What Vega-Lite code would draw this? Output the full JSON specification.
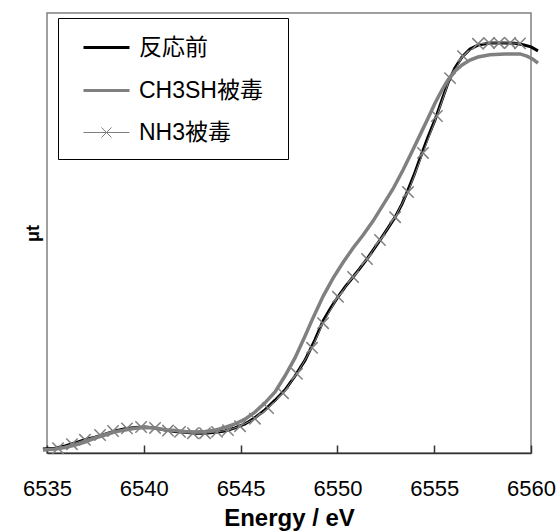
{
  "$schema": "https://vega.github.io/schema/vega-lite/v6.json",
  "width": 484,
  "height": 440,
  "autosize": {"type": "none"},
  "padding": {"left": 47, "top": 13, "right": 28, "bottom": 78},
  "background": "#ffffff",
  "config": {"view": {"stroke": "#808080", "strokeWidth": 1.5}},
  "datasets": {
    "d": [
      {"s": "反応前", "E": 6534.79, "y": 0.009},
      {"s": "反応前", "E": 6535.41, "y": 0.011},
      {"s": "反応前", "E": 6535.93, "y": 0.016},
      {"s": "反応前", "E": 6536.45, "y": 0.023},
      {"s": "反応前", "E": 6536.96, "y": 0.030},
      {"s": "反応前", "E": 6537.48, "y": 0.036},
      {"s": "反応前", "E": 6538.00, "y": 0.043},
      {"s": "反応前", "E": 6538.51, "y": 0.050},
      {"s": "反応前", "E": 6539.03, "y": 0.055},
      {"s": "反応前", "E": 6539.55, "y": 0.058},
      {"s": "反応前", "E": 6540.06, "y": 0.059},
      {"s": "反応前", "E": 6540.58, "y": 0.057},
      {"s": "反応前", "E": 6541.10, "y": 0.052},
      {"s": "反応前", "E": 6541.61, "y": 0.049},
      {"s": "反応前", "E": 6542.13, "y": 0.047},
      {"s": "反応前", "E": 6542.64, "y": 0.045},
      {"s": "反応前", "E": 6543.16, "y": 0.045},
      {"s": "反応前", "E": 6543.68, "y": 0.047},
      {"s": "反応前", "E": 6544.19, "y": 0.050},
      {"s": "反応前", "E": 6544.71, "y": 0.057},
      {"s": "反応前", "E": 6545.23, "y": 0.066},
      {"s": "反応前", "E": 6545.74, "y": 0.080},
      {"s": "反応前", "E": 6546.26, "y": 0.098},
      {"s": "反応前", "E": 6546.78, "y": 0.120},
      {"s": "反応前", "E": 6547.29, "y": 0.143},
      {"s": "反応前", "E": 6547.81, "y": 0.175},
      {"s": "反応前", "E": 6548.33, "y": 0.211},
      {"s": "反応前", "E": 6548.84, "y": 0.257},
      {"s": "反応前", "E": 6549.26, "y": 0.300},
      {"s": "反応前", "E": 6549.62, "y": 0.327},
      {"s": "反応前", "E": 6550.03, "y": 0.355},
      {"s": "反応前", "E": 6550.39, "y": 0.377},
      {"s": "反応前", "E": 6550.81, "y": 0.400},
      {"s": "反応前", "E": 6551.17, "y": 0.420},
      {"s": "反応前", "E": 6551.53, "y": 0.441},
      {"s": "反応前", "E": 6551.89, "y": 0.464},
      {"s": "反応前", "E": 6552.20, "y": 0.484},
      {"s": "反応前", "E": 6552.61, "y": 0.511},
      {"s": "反応前", "E": 6552.98, "y": 0.536},
      {"s": "反応前", "E": 6553.34, "y": 0.566},
      {"s": "反応前", "E": 6553.65, "y": 0.598},
      {"s": "反応前", "E": 6553.96, "y": 0.632},
      {"s": "反応前", "E": 6554.27, "y": 0.670},
      {"s": "反応前", "E": 6554.68, "y": 0.718},
      {"s": "反応前", "E": 6555.04, "y": 0.757},
      {"s": "反応前", "E": 6555.40, "y": 0.802},
      {"s": "反応前", "E": 6555.71, "y": 0.841},
      {"s": "反応前", "E": 6556.07, "y": 0.875},
      {"s": "反応前", "E": 6556.44, "y": 0.900},
      {"s": "反応前", "E": 6556.85, "y": 0.918},
      {"s": "反応前", "E": 6557.26, "y": 0.927},
      {"s": "反応前", "E": 6557.88, "y": 0.932},
      {"s": "反応前", "E": 6558.66, "y": 0.932},
      {"s": "反応前", "E": 6559.17, "y": 0.931},
      {"s": "反応前", "E": 6559.59, "y": 0.928},
      {"s": "反応前", "E": 6560.00, "y": 0.923},
      {"s": "反応前", "E": 6560.36, "y": 0.914},

      {"s": "CH3SH被毒", "E": 6534.79, "y": 0.007},
      {"s": "CH3SH被毒", "E": 6535.41, "y": 0.009},
      {"s": "CH3SH被毒", "E": 6535.93, "y": 0.0125},
      {"s": "CH3SH被毒", "E": 6536.45, "y": 0.018},
      {"s": "CH3SH被毒", "E": 6536.96, "y": 0.025},
      {"s": "CH3SH被毒", "E": 6537.48, "y": 0.034},
      {"s": "CH3SH被毒", "E": 6538.00, "y": 0.041},
      {"s": "CH3SH被毒", "E": 6538.51, "y": 0.048},
      {"s": "CH3SH被毒", "E": 6539.03, "y": 0.052},
      {"s": "CH3SH被毒", "E": 6539.55, "y": 0.056},
      {"s": "CH3SH被毒", "E": 6540.06, "y": 0.058},
      {"s": "CH3SH被毒", "E": 6540.58, "y": 0.057},
      {"s": "CH3SH被毒", "E": 6541.10, "y": 0.053},
      {"s": "CH3SH被毒", "E": 6541.61, "y": 0.051},
      {"s": "CH3SH被毒", "E": 6542.13, "y": 0.049},
      {"s": "CH3SH被毒", "E": 6542.64, "y": 0.048},
      {"s": "CH3SH被毒", "E": 6543.16, "y": 0.049},
      {"s": "CH3SH被毒", "E": 6543.68, "y": 0.052},
      {"s": "CH3SH被毒", "E": 6544.19, "y": 0.058},
      {"s": "CH3SH被毒", "E": 6544.71, "y": 0.066},
      {"s": "CH3SH被毒", "E": 6545.23, "y": 0.077},
      {"s": "CH3SH被毒", "E": 6545.74, "y": 0.093},
      {"s": "CH3SH被毒", "E": 6546.26, "y": 0.114},
      {"s": "CH3SH被毒", "E": 6546.78, "y": 0.139},
      {"s": "CH3SH被毒", "E": 6547.29, "y": 0.175},
      {"s": "CH3SH被毒", "E": 6547.81, "y": 0.216},
      {"s": "CH3SH被毒", "E": 6548.33, "y": 0.266},
      {"s": "CH3SH被毒", "E": 6548.74, "y": 0.307},
      {"s": "CH3SH被毒", "E": 6549.26, "y": 0.356},
      {"s": "CH3SH被毒", "E": 6549.77, "y": 0.397},
      {"s": "CH3SH被毒", "E": 6550.29, "y": 0.433},
      {"s": "CH3SH被毒", "E": 6550.81, "y": 0.466},
      {"s": "CH3SH被毒", "E": 6551.32, "y": 0.495},
      {"s": "CH3SH被毒", "E": 6551.84, "y": 0.527},
      {"s": "CH3SH被毒", "E": 6552.36, "y": 0.564},
      {"s": "CH3SH被毒", "E": 6552.87, "y": 0.600},
      {"s": "CH3SH被毒", "E": 6553.39, "y": 0.643},
      {"s": "CH3SH被毒", "E": 6553.80, "y": 0.680},
      {"s": "CH3SH被毒", "E": 6554.27, "y": 0.723},
      {"s": "CH3SH被毒", "E": 6554.68, "y": 0.761},
      {"s": "CH3SH被毒", "E": 6555.04, "y": 0.795},
      {"s": "CH3SH被毒", "E": 6555.40, "y": 0.825},
      {"s": "CH3SH被毒", "E": 6555.71, "y": 0.848},
      {"s": "CH3SH被毒", "E": 6556.07, "y": 0.868},
      {"s": "CH3SH被毒", "E": 6556.44, "y": 0.882},
      {"s": "CH3SH被毒", "E": 6556.85, "y": 0.893},
      {"s": "CH3SH被毒", "E": 6557.26, "y": 0.900},
      {"s": "CH3SH被毒", "E": 6557.88, "y": 0.905},
      {"s": "CH3SH被毒", "E": 6558.66, "y": 0.907},
      {"s": "CH3SH被毒", "E": 6559.43, "y": 0.907},
      {"s": "CH3SH被毒", "E": 6559.79, "y": 0.902},
      {"s": "CH3SH被毒", "E": 6560.10, "y": 0.895},
      {"s": "CH3SH被毒", "E": 6560.36, "y": 0.886},

      {"s": "NH3被毒", "E": 6535.57, "y": 0.011},
      {"s": "NH3被毒", "E": 6536.29, "y": 0.020},
      {"s": "NH3被毒", "E": 6536.96, "y": 0.030},
      {"s": "NH3被毒", "E": 6537.74, "y": 0.041},
      {"s": "NH3被毒", "E": 6538.41, "y": 0.050},
      {"s": "NH3被毒", "E": 6539.13, "y": 0.056},
      {"s": "NH3被毒", "E": 6539.86, "y": 0.059},
      {"s": "NH3被毒", "E": 6540.58, "y": 0.057},
      {"s": "NH3被毒", "E": 6541.25, "y": 0.051},
      {"s": "NH3被毒", "E": 6541.87, "y": 0.048},
      {"s": "NH3被毒", "E": 6542.54, "y": 0.045},
      {"s": "NH3被毒", "E": 6543.16, "y": 0.045},
      {"s": "NH3被毒", "E": 6543.78, "y": 0.048},
      {"s": "NH3被毒", "E": 6544.35, "y": 0.052},
      {"s": "NH3被毒", "E": 6544.97, "y": 0.061},
      {"s": "NH3被毒", "E": 6545.74, "y": 0.078},
      {"s": "NH3被毒", "E": 6546.42, "y": 0.102},
      {"s": "NH3被毒", "E": 6547.19, "y": 0.136},
      {"s": "NH3被毒", "E": 6547.91, "y": 0.180},
      {"s": "NH3被毒", "E": 6548.69, "y": 0.239},
      {"s": "NH3被毒", "E": 6549.26, "y": 0.295},
      {"s": "NH3被毒", "E": 6550.03, "y": 0.355},
      {"s": "NH3被毒", "E": 6550.81, "y": 0.400},
      {"s": "NH3被毒", "E": 6551.53, "y": 0.441},
      {"s": "NH3被毒", "E": 6552.20, "y": 0.484},
      {"s": "NH3被毒", "E": 6552.98, "y": 0.536},
      {"s": "NH3被毒", "E": 6553.65, "y": 0.593},
      {"s": "NH3被毒", "E": 6554.42, "y": 0.682},
      {"s": "NH3被毒", "E": 6555.14, "y": 0.766},
      {"s": "NH3被毒", "E": 6555.82, "y": 0.852},
      {"s": "NH3被毒", "E": 6556.49, "y": 0.902},
      {"s": "NH3被毒", "E": 6557.26, "y": 0.930},
      {"s": "NH3被毒", "E": 6557.83, "y": 0.932},
      {"s": "NH3被毒", "E": 6558.35, "y": 0.932},
      {"s": "NH3被毒", "E": 6558.92, "y": 0.932},
      {"s": "NH3被毒", "E": 6559.43, "y": 0.931}
    ]
  },
  "data": {"name": "d"},
  "encoding": {
    "x": {
      "field": "E", "type": "quantitative",
      "scale": {"domain": [6535, 6560], "nice": false, "zero": false},
      "axis": {
        "values": [6535, 6540, 6545, 6550, 6555, 6560],
        "format": "d",
        "grid": false,
        "labelFlush": false,
        "labelOverlap": false,
        "labelFont": "Liberation Sans",
        "labelFontSize": 22,
        "labelColor": "#000000",
        "labelPadding": 33,
        "tickSize": -8,
        "tickColor": "#333333",
        "tickWidth": 1.5,
        "domainColor": "#333333",
        "domainWidth": 1.5,
        "title": "Energy / eV",
        "titleFont": "Liberation Sans",
        "titleFontSize": 24,
        "titleFontWeight": "bold",
        "titleColor": "#000000",
        "titlePadding": 7
      }
    },
    "y": {
      "field": "y", "type": "quantitative",
      "scale": {"domain": [0, 1], "nice": false},
      "axis": {
        "domain": false, "ticks": false, "labels": false, "grid": false,
        "title": "μt",
        "titleFont": "Liberation Sans",
        "titleFontSize": 18,
        "titleFontWeight": "bold",
        "titleColor": "#000000",
        "titlePadding": 5
      }
    }
  },
  "layer": [
    {
      "transform": [{"filter": "datum.s === '反応前'"}],
      "mark": {"type": "line", "color": "#000000", "strokeWidth": 3}
    },
    {
      "transform": [{"filter": "datum.s === 'CH3SH被毒'"}],
      "mark": {"type": "line", "color": "#808080", "strokeWidth": 3.5}
    },
    {
      "transform": [{"filter": "datum.s === 'NH3被毒'"}],
      "mark": {"type": "line", "color": "#808080", "strokeWidth": 1}
    },
    {
      "transform": [{"filter": "datum.s === 'NH3被毒'"}],
      "mark": {"type": "point", "shape": "M-1,-1L1,1M-1,1L1,-1", "filled": false, "color": "#808080", "strokeWidth": 1.5, "size": 130, "opacity": 1}
    },
    {
      "transform": [{"filter": "false"}],
      "mark": {"type": "point", "filled": false, "opacity": 1},
      "encoding": {
        "color": {
          "field": "s", "type": "ordinal",
          "scale": {"domain": ["反応前", "CH3SH被毒", "NH3被毒"], "range": ["#000000", "#808080", "#808080"]},
          "legend": {
            "title": "\u00a0",
            "titleOrient": "bottom",
            "titleFontSize": 9,
            "titlePadding": 0,
            "orient": "none",
            "legendX": 11,
            "legendY": 5,
            "padding": 5,
            "symbolOffset": 19,
            "labelOffset": 8,
            "strokeColor": "#000000",
            "fillColor": "#ffffff",
            "labelFont": "Liberation Sans, Noto Sans CJK JP",
            "labelFontSize": 23,
            "labelColor": "#000000",
            "symbolSize": 2116,
            "rowPadding": 6,
            "labelExpr": "datum.label + '\u00a0\u00a0\u00a0\u200b'"
          }
        },
        "shape": {
          "field": "s", "type": "ordinal",
          "scale": {"domain": ["反応前", "CH3SH被毒", "NH3被毒"], "range": ["M-1,0H1", "M-1,0H1", "M-1,0H1M-0.22,-0.22L0.22,0.22M-0.22,0.22L0.22,-0.22"]}
        },
        "strokeWidth": {
          "field": "s", "type": "ordinal",
          "scale": {"type": "ordinal", "domain": ["反応前", "CH3SH被毒", "NH3被毒"], "range": [3, 3, 1]}
        }
      }
    }
  ]
}
